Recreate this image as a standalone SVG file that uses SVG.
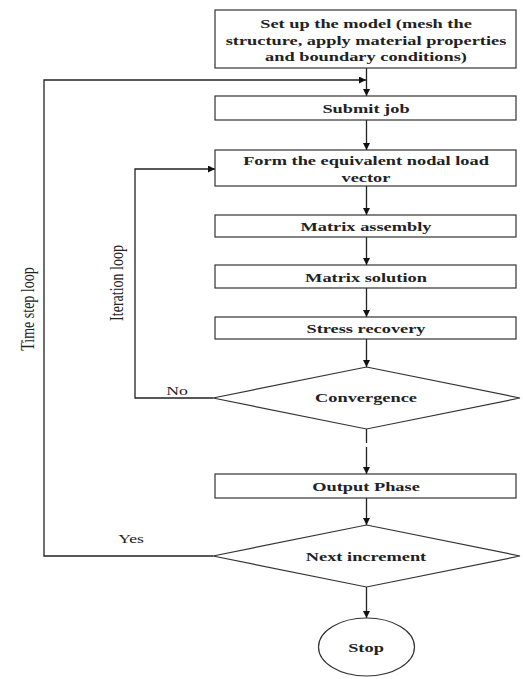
<svg xmlns="http://www.w3.org/2000/svg" width="523" height="679" viewBox="0 0 523 679">
  <style>
    .box { fill: #fff; stroke: #333; stroke-width: 1.2; }
    .line { fill: none; stroke: #222; stroke-width: 1.3; }
    .t { font-family: "Liberation Serif", "Times New Roman", serif; font-size: 13.5px; font-weight: bold; fill: #222; text-anchor: middle; }
    .lbl { font-family: "Liberation Serif", "Times New Roman", serif; font-size: 13px; fill: #222; text-anchor: middle; }
    .vlbl { font-family: "Liberation Serif", "Times New Roman", serif; font-size: 14px; fill: #222; text-anchor: middle; }
  </style>
  <defs>
    <marker id="arrow" viewBox="0 0 10 10" refX="10" refY="5" markerWidth="7" markerHeight="7" markerUnits="userSpaceOnUse" orient="auto">
      <path d="M0,0 L10,5 L0,10 z" fill="#111"/>
    </marker>
  </defs>
  <rect width="523" height="679" fill="#fff"/>

  <!-- connectors -->
  <g id="connectors">
    <line class="line" x1="366.5" y1="68" x2="366.5" y2="96" marker-end="url(#arrow)"/>
    <line class="line" x1="366.5" y1="120" x2="366.5" y2="150" marker-end="url(#arrow)"/>
    <line class="line" x1="366.5" y1="186" x2="366.5" y2="215" marker-end="url(#arrow)"/>
    <line class="line" x1="366.5" y1="237" x2="366.5" y2="265" marker-end="url(#arrow)"/>
    <line class="line" x1="366.5" y1="288" x2="366.5" y2="317" marker-end="url(#arrow)"/>
    <line class="line" x1="366.5" y1="339" x2="366.5" y2="367" marker-end="url(#arrow)"/>
    <line class="line" x1="366.5" y1="429" x2="366.5" y2="443"/>
    <line class="line" x1="366.5" y1="447" x2="366.5" y2="474" marker-end="url(#arrow)"/>
    <line class="line" x1="366.5" y1="498" x2="366.5" y2="525" marker-end="url(#arrow)"/>
    <line class="line" x1="366.5" y1="587" x2="366.5" y2="618" marker-end="url(#arrow)"/>
    <!-- iteration loop -->
    <polyline class="line" points="213,398 135,398 135,169 215,169" marker-end="url(#arrow)"/>
    <!-- time step loop -->
    <polyline class="line" points="213,556 44,556 44,80 366,80" marker-end="url(#arrow)"/>
  </g>

  <g id="setup">
    <rect class="box" x="215" y="10" width="301" height="58"/>
    <text class="t" transform="translate(366,28) scale(1.36,1)">Set up the model (mesh the</text>
    <text class="t" transform="translate(366,44.5) scale(1.36,1)">structure, apply material properties</text>
    <text class="t" transform="translate(366,61) scale(1.36,1)">and boundary conditions)</text>
  </g>
  <g id="submit">
    <rect class="box" x="215" y="96" width="301" height="24"/>
    <text class="t" transform="translate(366,113) scale(1.36,1)">Submit job</text>
  </g>
  <g id="form-load">
    <rect class="box" x="215" y="150" width="301" height="36"/>
    <text class="t" transform="translate(366,165) scale(1.36,1)">Form the equivalent nodal load</text>
    <text class="t" transform="translate(366,181.5) scale(1.36,1)">vector</text>
  </g>
  <g id="assembly">
    <rect class="box" x="215" y="215" width="301" height="22"/>
    <text class="t" transform="translate(366,231) scale(1.36,1)">Matrix assembly</text>
  </g>
  <g id="solution">
    <rect class="box" x="215" y="265" width="301" height="23"/>
    <text class="t" transform="translate(366,281.5) scale(1.36,1)">Matrix solution</text>
  </g>
  <g id="stress">
    <rect class="box" x="215" y="317" width="301" height="22"/>
    <text class="t" transform="translate(366,333) scale(1.36,1)">Stress recovery</text>
  </g>
  <g id="convergence">
    <polygon class="box" points="366.5,367 520,398 366.5,429 213,398"/>
    <text class="t" transform="translate(366,402) scale(1.36,1)">Convergence</text>
  </g>
  <g id="output">
    <rect class="box" x="215" y="474" width="301" height="24"/>
    <text class="t" transform="translate(366,490.5) scale(1.36,1)">Output Phase</text>
  </g>
  <g id="next-increment">
    <polygon class="box" points="366.5,525 520,556 366.5,587 213,556"/>
    <text class="t" transform="translate(366,560.5) scale(1.36,1)">Next increment</text>
  </g>
  <g id="stop">
    <ellipse class="box" cx="366.5" cy="647" rx="48" ry="29"/>
    <text class="t" transform="translate(366,651.5) scale(1.36,1)">Stop</text>
  </g>

  <!-- loop labels -->
  <g id="labels">
    <text class="lbl" transform="translate(177,395) scale(1.36,1)">No</text>
    <text class="lbl" transform="translate(131,543) scale(1.36,1)">Yes</text>
    <text class="vlbl" transform="translate(34,309) scale(1.36,1) rotate(-90)">Time step loop</text>
    <text class="vlbl" transform="translate(123,283) scale(1.36,1) rotate(-90)">Iteration loop</text>
  </g>
</svg>
